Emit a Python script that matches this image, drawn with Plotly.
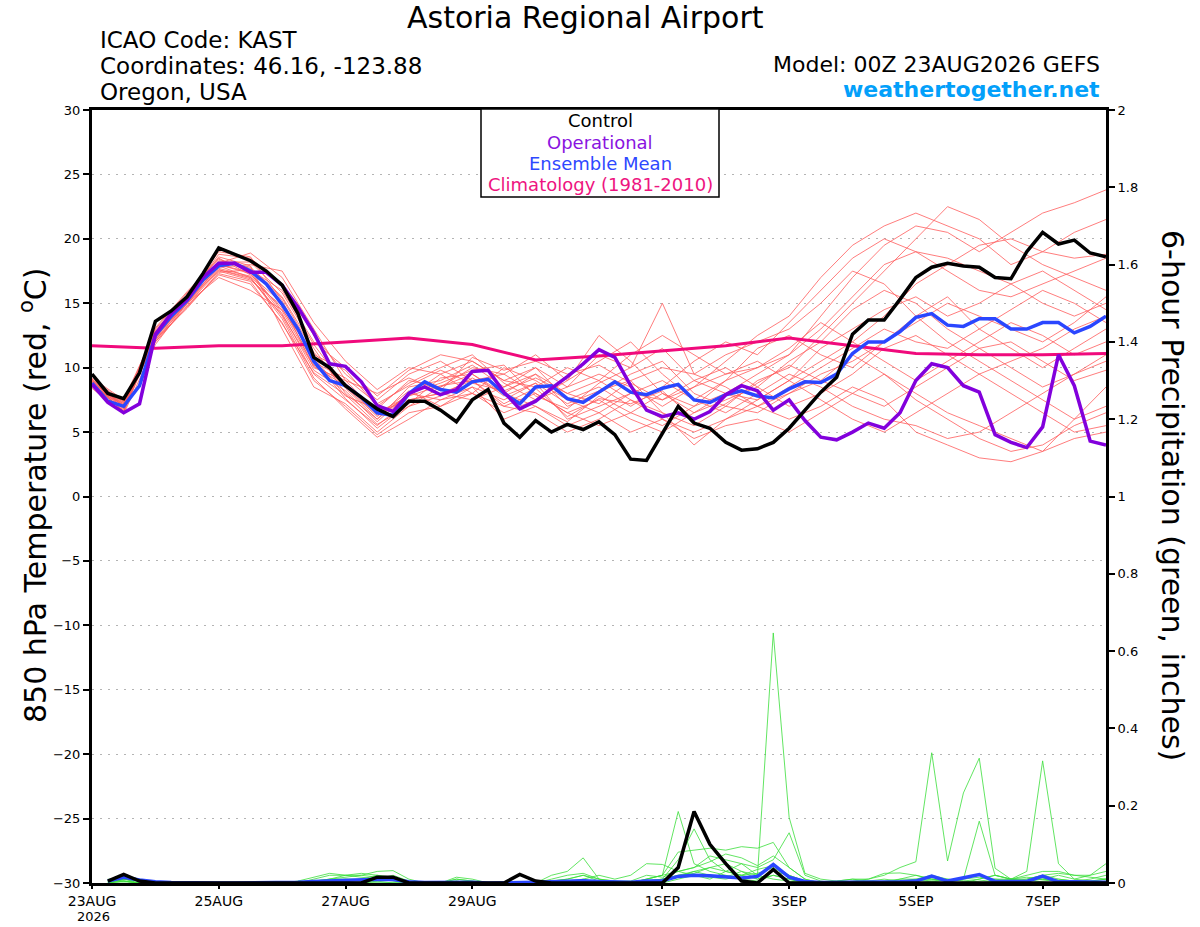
import plotly.graph_objects as go

# ---------------- data ----------------
hours6 = list(range(0, 385, 6))          # 0..384 h, 6-hourly
hours12 = list(range(0, 385, 12))        # members, 12-hourly
hours24 = list(range(0, 385, 24))        # climatology
precip_hours = list(range(6, 385, 6))    # 6..384 h

tick_hours = [0, 48, 96, 144, 216, 264, 312, 360]
tick_labels = ["23AUG", "25AUG", "27AUG", "29AUG", "1SEP", "3SEP", "5SEP", "7SEP"]
year_label = "2026"
temp_ticks = [-30, -25, -20, -15, -10, -5, 0, 5, 10, 15, 20, 25, 30]
precip_ticks = [0, 0.2, 0.4, 0.6, 0.8, 1, 1.2, 1.4, 1.6, 1.8, 2]
precip_tick_labels = ["0", "0.2", "0.4", "0.6", "0.8", "1", "1.2", "1.4", "1.6", "1.8", "2"]

control_temp = [9.5, 8.0, 7.6, 9.6, 13.6, 14.4, 15.5, 17.3, 19.3, 18.8, 18.3, 17.5, 16.4, 14.2, 10.8, 10.0, 8.6, 7.7, 6.8, 6.2, 7.4, 7.4,
                6.7, 5.8, 7.5, 8.3, 5.7, 4.6, 5.9, 5.0, 5.6, 5.2, 5.8, 4.8, 2.9, 2.8, 4.9, 7.0, 5.7, 5.3, 4.2, 3.6, 3.7,
                4.2, 5.3, 6.7, 8.1, 9.25, 12.6, 13.7, 13.7, 15.3, 17.0, 17.8, 18.1, 17.9, 17.8, 17.0, 16.9, 19.0, 20.5, 19.6, 19.9, 18.9, 18.6]

oper_temp = [8.7, 7.3, 6.5, 7.2, 12.6, 14.2, 15.3, 17.0, 18.1, 18.1, 17.4, 17.4, 16.4, 14.7, 12.7, 10.3, 10.1, 8.9, 7.05, 6.6, 8.0, 8.5,
             7.9, 8.3, 9.7, 9.8, 8.1, 6.8, 7.4, 8.4, 9.3, 10.3, 11.4, 10.8, 8.6, 6.7, 6.2, 6.5, 6.0, 6.6, 7.9, 8.6, 8.2,
             6.7, 7.5, 5.9, 4.6, 4.4, 5.0, 5.7, 5.3, 6.5, 9.0, 10.3, 10.0, 8.6, 8.1, 4.8, 4.2, 3.8, 5.4, 11.0, 8.6, 4.3, 4.0]

mean_temp = [8.8, 7.4, 7.0, 8.6, 12.5, 14.0, 15.2, 16.8, 17.9, 18.1, 17.5, 16.5, 14.9, 13.0, 10.5, 9.0, 8.6, 7.7, 6.5, 6.3, 8.0, 8.9,
             8.3, 8.1, 8.9, 9.1, 8.0, 7.2, 8.5, 8.6, 7.6, 7.3, 8.1, 8.9, 8.1, 7.9, 8.4, 8.7, 7.5, 7.3, 7.9, 8.2, 7.8,
             7.65, 8.35, 8.9, 8.85, 9.5, 11.1, 12.0, 12.0, 12.8, 13.9, 14.2, 13.3, 13.2, 13.8, 13.8, 13.0, 13.0, 13.5, 13.5, 12.7, 13.2, 14.0]

clim_temp = [11.7, 11.5, 11.7, 11.7, 12.0, 12.3, 11.8, 10.6, 10.9, 11.3, 11.7, 12.3, 11.7, 11.1, 11.0, 11.0, 11.1]

member_temps = [
    [9.0, 6.8, 12.8, 15.5, 18.3, 17.8, 15.5, 11.5, 8.0, 6.0, 8.5, 9.0, 10.2, 8.5, 9.5, 7.0, 8.0, 9.5, 10.5, 8.0, 7.0, 9.0, 10.0, 12.5, 15.0, 17.5, 20.0, 22.5, 21.5, 19.5, 18.0, 17.0, 16.0],
    [8.6, 7.2, 12.2, 15.0, 17.6, 17.0, 14.0, 9.5, 7.5, 5.5, 7.5, 8.0, 9.0, 7.0, 8.0, 6.5, 7.5, 6.0, 5.0, 6.5, 8.0, 9.5, 11.0, 14.0, 17.0, 19.5, 21.0, 20.5, 19.0, 20.5, 22.0, 22.8, 23.8],
    [8.9, 6.5, 12.6, 15.4, 18.8, 18.5, 16.5, 12.5, 9.5, 7.5, 9.5, 10.5, 9.0, 9.5, 11.0, 9.0, 10.5, 12.0, 9.5, 7.5, 9.0, 11.5, 12.5, 11.0, 10.0, 12.0, 14.0, 15.5, 13.0, 11.5, 10.0, 11.5, 13.0],
    [8.7, 7.4, 12.0, 14.8, 17.2, 16.5, 13.5, 9.0, 7.0, 4.8, 6.5, 7.0, 8.5, 6.0, 7.0, 5.5, 6.5, 5.0, 6.0, 4.5, 5.5, 6.0, 5.0, 6.5, 8.0, 9.5, 7.5, 6.0, 4.5, 3.5, 4.0, 5.5, 6.5],
    [9.1, 6.9, 13.0, 15.8, 18.5, 17.2, 15.0, 10.0, 9.0, 6.5, 7.8, 9.5, 10.5, 9.0, 10.0, 8.5, 11.0, 10.0, 11.5, 9.0, 8.0, 7.5, 9.0, 10.5, 12.0, 14.0, 16.5, 18.0, 19.5, 20.0, 19.0, 18.5, 18.8],
    [8.5, 7.1, 12.4, 15.1, 17.8, 18.0, 17.5, 13.5, 10.5, 8.3, 10.0, 9.5, 8.0, 10.0, 9.0, 7.5, 8.5, 7.0, 8.5, 10.5, 12.0, 11.0, 13.5, 16.0, 18.5, 20.0, 19.0, 18.5, 17.5, 16.5, 15.0, 14.0, 15.0],
    [8.8, 6.6, 12.3, 15.3, 18.0, 17.3, 14.2, 9.8, 8.2, 5.8, 8.0, 7.5, 8.5, 7.5, 8.8, 6.0, 7.0, 8.0, 7.5, 9.0, 10.0, 8.5, 7.0, 8.0, 9.5, 11.5, 12.5, 11.0, 9.5, 8.0, 6.5, 5.0, 5.5],
    [9.0, 7.3, 12.7, 14.9, 17.5, 16.8, 14.8, 10.8, 7.8, 6.8, 9.0, 8.5, 9.5, 8.0, 9.5, 8.0, 9.0, 7.5, 6.0, 5.0, 6.0, 7.5, 9.0, 11.5, 13.0, 14.5, 15.5, 14.0, 15.0, 16.5, 17.5, 16.0, 14.5],
    [8.7, 6.9, 12.9, 15.6, 18.6, 17.9, 13.0, 8.5, 7.2, 5.0, 7.0, 8.5, 10.0, 9.5, 8.0, 6.5, 5.5, 6.5, 8.0, 7.0, 9.0, 10.0, 11.5, 13.5, 12.0, 10.5, 9.0, 10.5, 12.0, 13.5, 12.5, 11.0, 12.0],
    [8.9, 7.0, 12.1, 15.0, 17.0, 16.0, 14.5, 11.0, 9.8, 7.0, 8.8, 10.0, 11.0, 8.8, 7.5, 9.0, 12.5, 10.5, 8.0, 6.5, 7.5, 8.5, 10.5, 12.0, 14.5, 16.0, 15.0, 13.0, 11.5, 10.0, 8.5, 9.5, 11.0],
    [8.6, 6.7, 12.5, 15.2, 18.2, 18.2, 15.8, 11.8, 8.5, 6.2, 8.2, 7.0, 8.0, 6.5, 7.5, 8.5, 9.5, 8.5, 7.0, 8.5, 9.5, 10.5, 9.0, 7.5, 6.0, 5.0, 6.5, 8.0, 9.5, 10.5, 11.5, 13.0, 14.0],
    [9.2, 7.5, 12.8, 15.5, 17.9, 17.0, 13.8, 9.2, 6.8, 4.6, 6.0, 7.5, 8.0, 7.0, 6.5, 5.0, 6.0, 7.5, 6.5, 5.5, 7.0, 6.5, 8.0, 9.0, 11.0, 9.5, 8.0, 6.5, 5.5, 4.5, 3.5, 4.5, 5.0],
    [8.8, 7.2, 12.2, 14.6, 17.4, 17.6, 16.0, 12.0, 10.0, 7.8, 9.8, 11.0, 10.5, 9.0, 8.5, 10.0, 9.0, 11.0, 12.5, 11.0, 9.5, 10.0, 11.0, 13.0, 15.5, 18.0, 19.0, 17.5, 16.0, 15.5, 16.5, 17.5, 18.5],
    [8.4, 6.4, 11.8, 15.0, 18.0, 17.4, 14.4, 10.2, 8.8, 6.5, 7.5, 8.0, 7.5, 8.5, 10.0, 7.5, 6.5, 8.0, 9.0, 7.5, 6.5, 8.0, 9.5, 8.5, 7.0, 6.0, 5.5, 4.5, 5.0, 6.5, 8.0, 9.5, 10.5],
    [9.0, 7.0, 12.6, 15.7, 19.0, 18.6, 15.2, 10.6, 7.6, 5.3, 7.2, 9.2, 9.5, 7.8, 8.8, 7.2, 8.2, 9.0, 6.5, 4.0, 6.0, 7.0, 8.5, 10.0, 11.5, 13.0, 12.0, 11.5, 13.0, 14.5, 16.0, 15.0, 13.5],
    [8.7, 6.8, 12.4, 15.2, 17.7, 17.1, 14.6, 10.4, 9.2, 7.2, 8.6, 9.8, 8.8, 8.2, 9.2, 8.0, 7.2, 9.0, 10.0, 9.5, 11.0, 12.0, 13.0, 15.0, 17.5, 16.5, 14.0, 12.0, 10.5, 9.0, 7.5, 6.0, 7.0],
    [8.9, 7.1, 13.1, 15.9, 18.4, 17.7, 15.4, 11.2, 8.4, 6.0, 8.0, 8.8, 9.8, 10.2, 7.8, 6.8, 8.8, 10.0, 15.0, 9.5, 8.5, 7.0, 8.0, 9.5, 10.5, 12.0, 13.5, 15.0, 14.0, 13.0, 12.0, 13.5, 15.5],
    [8.6, 7.3, 12.0, 14.7, 17.3, 16.7, 13.4, 9.6, 7.9, 5.6, 7.0, 7.8, 9.2, 8.0, 7.0, 5.8, 7.8, 6.5, 5.5, 7.0, 8.0, 7.0, 6.0, 7.0, 8.5, 7.5, 5.0, 4.0, 3.0, 2.7, 3.5, 6.0, 8.5],
    [8.8, 6.6, 12.7, 15.4, 18.1, 18.9, 17.0, 13.0, 9.0, 8.0, 9.2, 8.2, 10.8, 9.8, 10.5, 9.5, 10.2, 8.8, 7.5, 8.5, 10.5, 12.5, 14.0, 17.0, 19.5, 21.0, 22.0, 21.0, 20.0, 18.0, 19.0, 20.5, 21.5],
    [9.1, 7.4, 12.3, 15.1, 17.6, 16.9, 14.1, 10.1, 8.6, 6.3, 7.8, 8.6, 9.0, 7.2, 8.4, 6.2, 7.6, 7.2, 8.2, 6.0, 7.2, 8.8, 10.2, 9.0, 8.0, 7.0, 8.5, 10.0, 11.5, 12.0, 10.5, 9.0, 9.8],
]

control_precip = [0.005, 0.022, 0.005, 0, 0, 0, 0, 0, 0, 0, 0, 0, 0, 0, 0, 0,
                  0, 0.015, 0.015, 0, 0, 0, 0, 0, 0, 0, 0.022, 0.005, 0, 0, 0, 0,
                  0, 0, 0, 0, 0.04, 0.185, 0.1, 0.05, 0.005, 0, 0.035, 0, 0, 0, 0, 0,
                  0, 0, 0, 0, 0, 0, 0, 0, 0, 0, 0, 0, 0, 0, 0, 0]

mean_precip = [0.005, 0.015, 0.008, 0.003, 0.001, 0, 0, 0, 0, 0, 0, 0, 0.002, 0.004, 0.006, 0.008,
               0.008, 0.01, 0.009, 0.003, 0.001, 0.001, 0.003, 0.002, 0, 0, 0.002, 0.002, 0.003, 0.004, 0.006, 0.004,
               0.002, 0.002, 0.005, 0.006, 0.017, 0.02, 0.019, 0.015, 0.013, 0.017, 0.048, 0.015, 0.004, 0.001, 0.001, 0.001,
               0.001, 0.002, 0.003, 0.005, 0.018, 0.005, 0.013, 0.022, 0.004, 0.003, 0.004, 0.018, 0.003, 0.003, 0.002, 0.002]

member_precips = [
    [0.005, 0.01, 0.005, 0, 0, 0, 0, 0, 0, 0, 0, 0, 0, 0.01, 0.02, 0.02,
     0.015, 0.01, 0.02, 0.005, 0, 0, 0.01, 0.005, 0, 0, 0, 0, 0.005, 0.01, 0.02, 0.005,
     0, 0, 0.01, 0.02, 0.03, 0.02, 0.01, 0.03, 0.05, 0.02, 0.647, 0.17, 0.025, 0.01, 0.005, 0.01,
     0.005, 0, 0.01, 0.02, 0.01, 0.005, 0, 0.01, 0.02, 0.01, 0.005, 0.01, 0.02, 0.01, 0.005, 0.01],
    [0.01, 0.005, 0, 0, 0, 0, 0, 0, 0, 0, 0, 0, 0.005, 0.015, 0.025, 0.02,
     0.02, 0.015, 0.01, 0, 0, 0, 0.015, 0.01, 0, 0, 0, 0, 0, 0.005, 0.005, 0,
     0, 0, 0.005, 0.01, 0.02, 0.03, 0.04, 0.05, 0.03, 0.01, 0.02, 0.01, 0, 0, 0.005, 0.01,
     0.01, 0.02, 0.04, 0.055, 0.337, 0.057, 0.233, 0.323, 0.038, 0.01, 0.005, 0.01, 0.005, 0, 0.005, 0.01],
    [0, 0.01, 0.005, 0, 0, 0, 0, 0, 0, 0, 0, 0, 0, 0.005, 0.01, 0.015,
     0.02, 0.03, 0.032, 0.01, 0, 0, 0.005, 0, 0, 0, 0, 0, 0.01, 0.02, 0.025, 0.01,
     0.005, 0, 0.01, 0.02, 0.185, 0.05, 0.03, 0.02, 0.01, 0.005, 0.02, 0.01, 0, 0, 0, 0,
     0, 0.005, 0.01, 0.01, 0.02, 0.01, 0.005, 0.01, 0.02, 0.01, 0.03, 0.316, 0.05, 0.01, 0.02, 0.05],
    [0.005, 0.02, 0.01, 0, 0, 0, 0, 0, 0, 0, 0, 0, 0, 0, 0.005, 0.01,
     0.01, 0.02, 0.015, 0, 0, 0, 0.01, 0.005, 0, 0, 0, 0, 0.02, 0.03, 0.065, 0.01,
     0, 0, 0.005, 0.01, 0.06, 0.14, 0.06, 0.03, 0.02, 0.01, 0.03, 0.02, 0.005, 0, 0, 0,
     0, 0, 0, 0.005, 0.01, 0.005, 0.01, 0.16, 0.02, 0.01, 0.01, 0.02, 0.01, 0.005, 0.01, 0.02],
    [0, 0.01, 0.005, 0, 0, 0, 0, 0, 0, 0, 0, 0, 0, 0, 0, 0.005,
     0.01, 0.01, 0.005, 0, 0, 0, 0, 0, 0, 0, 0, 0, 0, 0, 0.01, 0.02,
     0.01, 0.02, 0.05, 0.048, 0.03, 0.04, 0.07, 0.06, 0.05, 0.04, 0.06, 0.13, 0.02, 0.005, 0, 0,
     0, 0, 0.005, 0.01, 0.005, 0, 0, 0.005, 0.01, 0.01, 0.02, 0.03, 0.03, 0.02, 0.02, 0.03],
    [0.005, 0.01, 0, 0, 0, 0, 0, 0, 0, 0, 0, 0, 0, 0, 0.01, 0.02,
     0.025, 0.02, 0.01, 0, 0, 0, 0.005, 0, 0, 0, 0, 0, 0, 0, 0.005, 0.005,
     0, 0, 0.01, 0.02, 0.08, 0.085, 0.09, 0.085, 0.094, 0.09, 0.105, 0.04, 0.01, 0, 0, 0.005,
     0.01, 0.025, 0.026, 0.02, 0.01, 0.005, 0.01, 0.015, 0.01, 0.005, 0.01, 0.02, 0.025, 0.02, 0.015, 0.01],
    [0, 0.005, 0, 0, 0, 0, 0, 0, 0, 0, 0, 0, 0, 0.005, 0.01, 0.01,
     0.005, 0.005, 0.01, 0, 0, 0, 0, 0, 0, 0, 0, 0, 0.005, 0.01, 0.02, 0.01,
     0.005, 0.005, 0.02, 0.015, 0.03, 0.04, 0.055, 0.075, 0.065, 0.045, 0.07, 0.04, 0.01, 0, 0, 0,
     0.005, 0.01, 0.005, 0, 0.005, 0.01, 0.005, 0, 0.005, 0.01, 0.015, 0.01, 0.005, 0.005, 0, 0.005],
    [0, 0.005, 0, 0, 0, 0, 0, 0, 0, 0, 0, 0, 0, 0, 0, 0,
     0, 0, 0, 0, 0, 0, 0, 0, 0, 0, 0, 0, 0, 0.005, 0.01, 0,
     0, 0, 0.005, 0.01, 0.02, 0.025, 0.04, 0.03, 0.02, 0.035, 0.045, 0.02, 0.005, 0, 0, 0,
     0, 0, 0, 0, 0, 0, 0, 0, 0.005, 0, 0, 0.005, 0.01, 0.005, 0, 0],
    [0.005, 0.005, 0, 0, 0, 0, 0, 0, 0, 0, 0, 0, 0, 0, 0, 0,
     0, 0.005, 0, 0, 0, 0, 0, 0, 0, 0, 0, 0, 0, 0, 0, 0,
     0, 0, 0, 0.005, 0.015, 0.03, 0.02, 0.015, 0.03, 0.02, 0.01, 0.005, 0, 0, 0, 0,
     0, 0, 0, 0, 0, 0, 0, 0, 0, 0, 0, 0, 0, 0, 0, 0],
    [0, 0, 0, 0, 0, 0, 0, 0, 0, 0, 0, 0, 0, 0, 0, 0,
     0, 0, 0, 0, 0, 0, 0, 0, 0, 0, 0, 0, 0, 0, 0, 0,
     0, 0, 0, 0, 0.01, 0.02, 0.015, 0.01, 0.02, 0.025, 0.04, 0.015, 0.005, 0, 0, 0,
     0, 0, 0, 0, 0, 0, 0, 0, 0, 0, 0, 0, 0, 0, 0, 0],
]

for s in (control_temp, oper_temp, mean_temp):
    assert len(s) == len(hours6), len(s)
for m in member_temps:
    assert len(m) == len(hours12), len(m)
for p in member_precips + [control_precip, mean_precip]:
    assert len(p) == len(precip_hours), len(p)

# ---------------- styling ----------------
FONT = "DejaVu Sans"
W, H = 1200, 927
L, R, T, B = 92, 94, 110, 44
PW, PH = W - L - R, H - T - B

def px(x):
    return (x - L) / PW

def py(y):
    return (H - B - y) / PH

fig = go.Figure()

for m in member_temps:
    fig.add_trace(go.Scatter(x=hours12, y=m, mode="lines",
                             line=dict(color="#ff5c5c", width=0.8),
                             hoverinfo="skip", showlegend=False))

for p in member_precips:
    fig.add_trace(go.Scatter(x=precip_hours, y=p, yaxis="y2", mode="lines",
                             line=dict(color="#3ade3a", width=0.8),
                             hoverinfo="skip", showlegend=False))

fig.add_trace(go.Scatter(x=precip_hours, y=mean_precip, yaxis="y2", mode="lines",
                         line=dict(color="#2a46ff", width=3.5), showlegend=False))
fig.add_trace(go.Scatter(x=precip_hours, y=control_precip, yaxis="y2", mode="lines",
                         line=dict(color="black", width=3.5), showlegend=False))

fig.add_trace(go.Scatter(x=hours24, y=clim_temp, mode="lines",
                         line=dict(color="#f00a7c", width=3), showlegend=False))
fig.add_trace(go.Scatter(x=hours6, y=mean_temp, mode="lines",
                         line=dict(color="#2a46ff", width=3.5), showlegend=False))
fig.add_trace(go.Scatter(x=hours6, y=oper_temp, mode="lines",
                         line=dict(color="#8200dc", width=3.5), showlegend=False))
fig.add_trace(go.Scatter(x=hours6, y=control_temp, mode="lines",
                         line=dict(color="black", width=3.5), showlegend=False))

annotations = []

def text(x, y, s, size, color="black", anchor="center", angle=0, bold=False):
    annotations.append(dict(
        xref="paper", yref="paper", x=px(x), y=py(y), text=("<b>%s</b>" % s) if bold else s,
        showarrow=False, xanchor=anchor, yanchor="middle", textangle=angle,
        font=dict(family=FONT, size=size, color=color)))

text(585, 18, "Astoria Regional Airport", 30)
text(98, 40, "ICAO Code: KAST", 23, anchor="left")
text(98, 66, "Coordinates: 46.16, -123.88", 23, anchor="left")
text(98, 92, "Oregon, USA", 23, anchor="left")
text(1102, 64, "Model: 00Z 23AUG2026 GEFS", 22, anchor="right")
text(1102, 89, "weathertogether.net", 22, color="#03a0fa", anchor="right", bold=True)

text(600, 121, "Control", 18)
text(600, 142, "Operational", 18, color="#8a14e0")
text(600, 163, "Ensemble Mean", 18, color="#2e48ff")
text(600, 185, "Climatology (1981-2010)", 18, color="#ee1480")

text(33, 495, "850 hPa Temperature (red, <sup>o</sup>C)", 30, angle=-90)
text(1173, 495, "6-hour Precipitation (green, inches)", 30, angle=90)
text(93, 917, year_label, 13)

shapes = [dict(type="rect", xref="paper", yref="paper", layer="above",
               x0=px(481), x1=px(719), y0=py(197), y1=py(109),
               fillcolor="white", line=dict(color="black", width=1.5))]

fig.update_layout(
    width=W, height=H,
    margin=dict(l=L, r=R, t=T, b=B, autoexpand=False),
    paper_bgcolor="white", plot_bgcolor="white",
    showlegend=False,
    annotations=annotations,
    shapes=shapes,
    font=dict(family=FONT, color="black"),
    xaxis=dict(range=[0, 384], tickvals=tick_hours, ticktext=tick_labels, automargin=False,
               showgrid=False, zeroline=False, showline=True, linewidth=3, linecolor="black",
               mirror=True, ticks="outside", ticklen=3, tickwidth=1.5, tickcolor="black",
               tickfont=dict(family=FONT, size=14)),
    yaxis=dict(range=[-30, 30], tickvals=temp_ticks, automargin=False,
               showgrid=True, gridcolor="#b4b4b4", gridwidth=1, griddash="2px,6px",
               zeroline=False, showline=True, linewidth=3, linecolor="black",
               ticks="outside", ticklen=6, tickwidth=1.5, tickcolor="black",
               tickfont=dict(family=FONT, size=13)),
    yaxis2=dict(range=[0, 2], overlaying="y", side="right", tickvals=precip_ticks,
                ticktext=precip_tick_labels, showgrid=False, zeroline=False, automargin=False,
                showline=True, linewidth=3, linecolor="black",
                ticks="outside", ticklen=6, tickwidth=1.5, tickcolor="black",
                tickfont=dict(family=FONT, size=13)),
)

fig.write_html("out.html", config={"displayModeBar": False},
               post_script="document.body.style.margin='0';document.body.style.overflow='hidden';")
